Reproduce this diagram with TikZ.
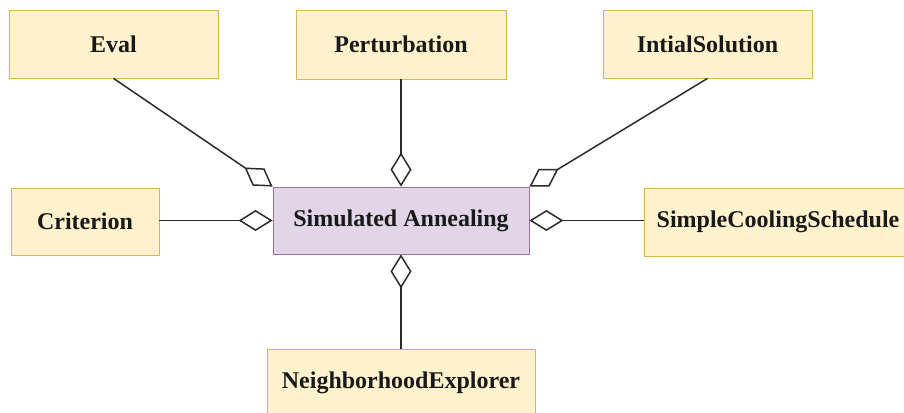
\documentclass[tikz,border=0pt]{standalone}
\usepackage{fontspec}
\setmainfont{Liberation Serif}
\usetikzlibrary{arrows.meta}

\definecolor{partfill}{HTML}{FFF2CC}
\definecolor{partline}{HTML}{D6B656}
\definecolor{corefill}{HTML}{E1D5E7}
\definecolor{coreline}{HTML}{9673A6}
\definecolor{linkgray}{HTML}{2B2B2B}

\begin{document}
\begin{tikzpicture}[x=1pt,y=-1pt,
    part/.style={draw=partline,fill=partfill,line width=0.8pt,inner sep=0pt,
        font=\fontsize{24}{28}\selectfont\bfseries,text=black!90},
    core/.style={part,draw=coreline,fill=corefill},
    agg/.style={draw=linkgray,line width=1.5pt,
        -{Diamond[open,length=34pt,width=21pt,line width=1.5pt]}}]

    \useasboundingbox (0,0) rectangle (904,412);
    \clip (0,0) rectangle (904,412);

    % Komponenten
    \node[part,minimum width=209pt,minimum height=68pt] (eval) at (113.5,44) {Eval};
    \node[part,minimum width=210pt,minimum height=69pt] (pert) at (401,44.5) {Perturbation};
    \node[part,minimum width=209pt,minimum height=68pt] (init) at (707.5,44) {IntialSolution};
    \node[part,minimum width=148pt,minimum height=67pt] (crit) at (85,221.5) {Criterion};
    \node[part,minimum width=268pt,minimum height=68pt] (scs) at (778,222) {SimpleCoolingSchedule};
    \node[part,minimum width=268pt,minimum height=68pt] (ne) at (401,383) {NeighborhoodExplorer};

    % Hauptklasse
    \node[core,minimum width=256pt,minimum height=67pt] (sim) at (401,220.5) {Simulated Annealing};

    % Aggregationen
    \draw[agg] (eval.south) -- (sim.north west);
    \draw[agg] (pert.south) -- (sim.north);
    \draw[agg] (init.south) -- (sim.north east);
    \draw[agg] (crit.east |- sim.west) -- (sim.west);
    \draw[agg] (scs.west |- sim.east) -- (sim.east);
    \draw[agg] (ne.north) -- (sim.south);

\end{tikzpicture}
\end{document}
